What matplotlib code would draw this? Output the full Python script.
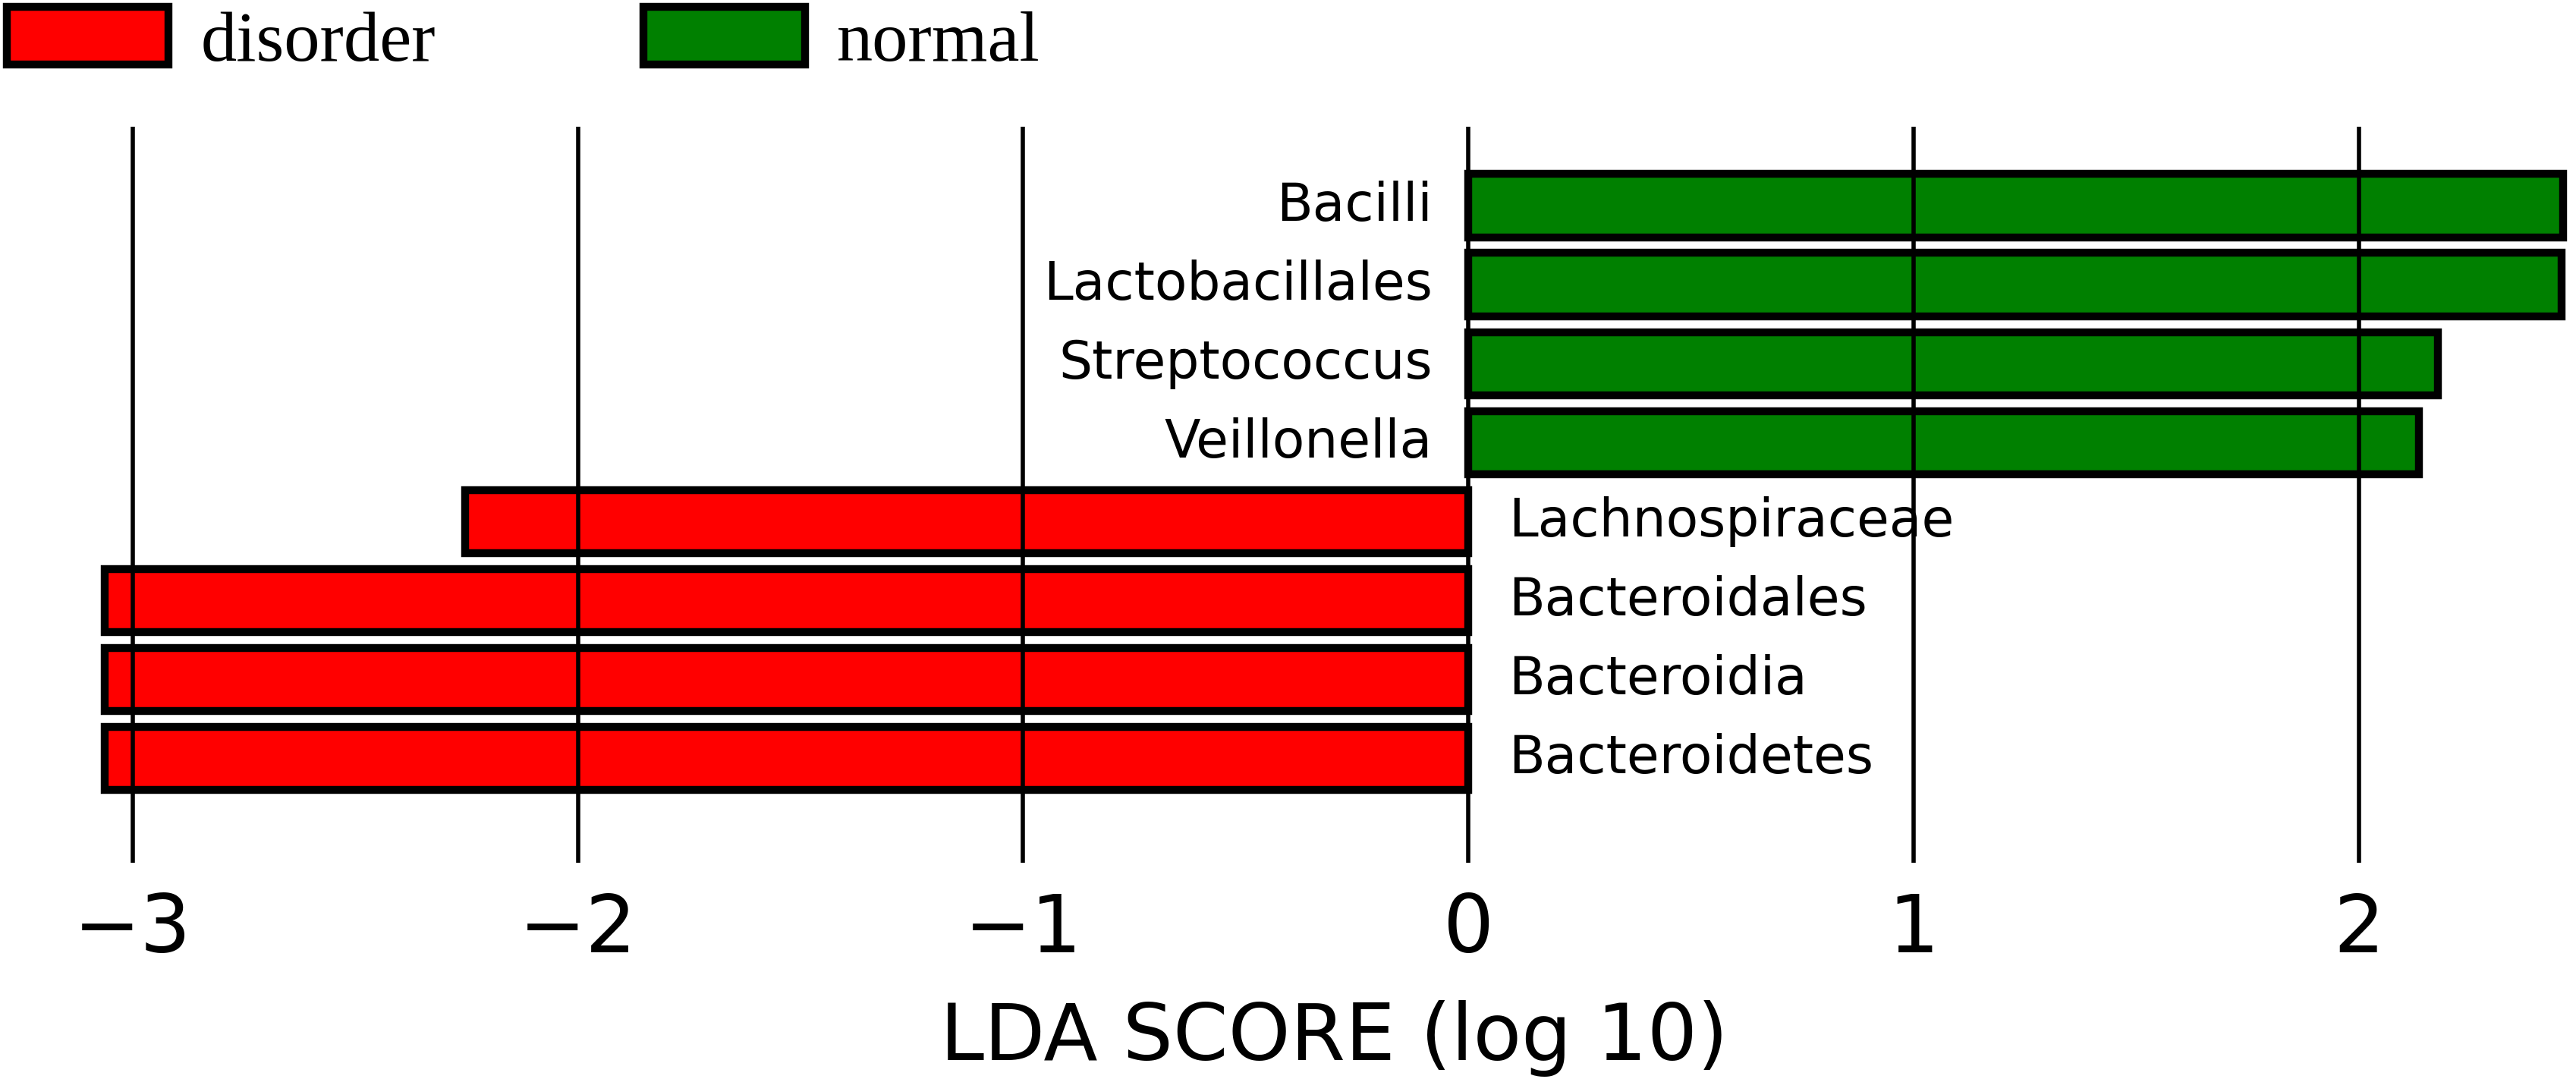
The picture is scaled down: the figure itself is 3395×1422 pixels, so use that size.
import matplotlib
matplotlib.use('Agg')
import matplotlib.pyplot as plt

# LEfSe results, bottom to top
taxa = ['Bacteroidetes', 'Bacteroidia', 'Bacteroidales', 'Lachnospiraceae',
        'Veillonella', 'Streptococcus', 'Lactobacillales', 'Bacilli']
lda = [-3.063, -3.063, -3.063, -2.253, 2.136, 2.178, 2.456, 2.459]
groups = ['disorder', 'disorder', 'disorder', 'disorder',
          'normal', 'normal', 'normal', 'normal']
group_colors = {'disorder': '#ff0000', 'normal': '#008000'}
ticks = [-3, -2, -1, 0, 1, 2]

fig = plt.figure(figsize=(33.95, 14.22), dpi=100)
ax = fig.add_axes([0.0406, 0.2004, 0.9544, 0.6822])

for grp in ['disorder', 'normal']:
    idx = [i for i, g in enumerate(groups) if g == grp]
    ax.barh(idx, [lda[i] for i in idx], height=0.8, color=group_colors[grp],
            edgecolor='black', linewidth=7.5, label=grp, clip_on=False, zorder=1)

# taxon names next to the zero line
for i, (name, v) in enumerate(zip(taxa, lda)):
    if v > 0:
        ax.text(-0.08, i, name, ha='right', va='center', fontsize=50)
    else:
        ax.text(0.09, i, name, ha='left', va='center', fontsize=50)

ax.set_xlim(min(lda), max(lda))
ax.set_ylim(-1.32, 8.0)
ax.set_xticks(ticks)
ax.set_xticklabels([f'{t}' if t >= 0 else f'\u2212{abs(t)}' for t in ticks])
ax.set_yticks([])
ax.tick_params(axis='x', length=0, pad=27, labelsize=76)
ax.grid(axis='x', color='black', linewidth=4)
ax.set_axisbelow(False)
for s in ax.spines.values():
    s.set_visible(False)
ax.set_xlabel('LDA SCORE (log 10)', fontsize=75, labelpad=30)

fig.legend(loc='upper left', bbox_to_anchor=(0.0, 1.0), ncol=2, frameon=False,
           prop={'family': 'Liberation Serif', 'size': 68},
           handlelength=2.25, handleheight=0.85, handletextpad=0.45,
           columnspacing=2.9, borderpad=0.1, borderaxespad=0.0)

fig.savefig('out.png', dpi=100)
